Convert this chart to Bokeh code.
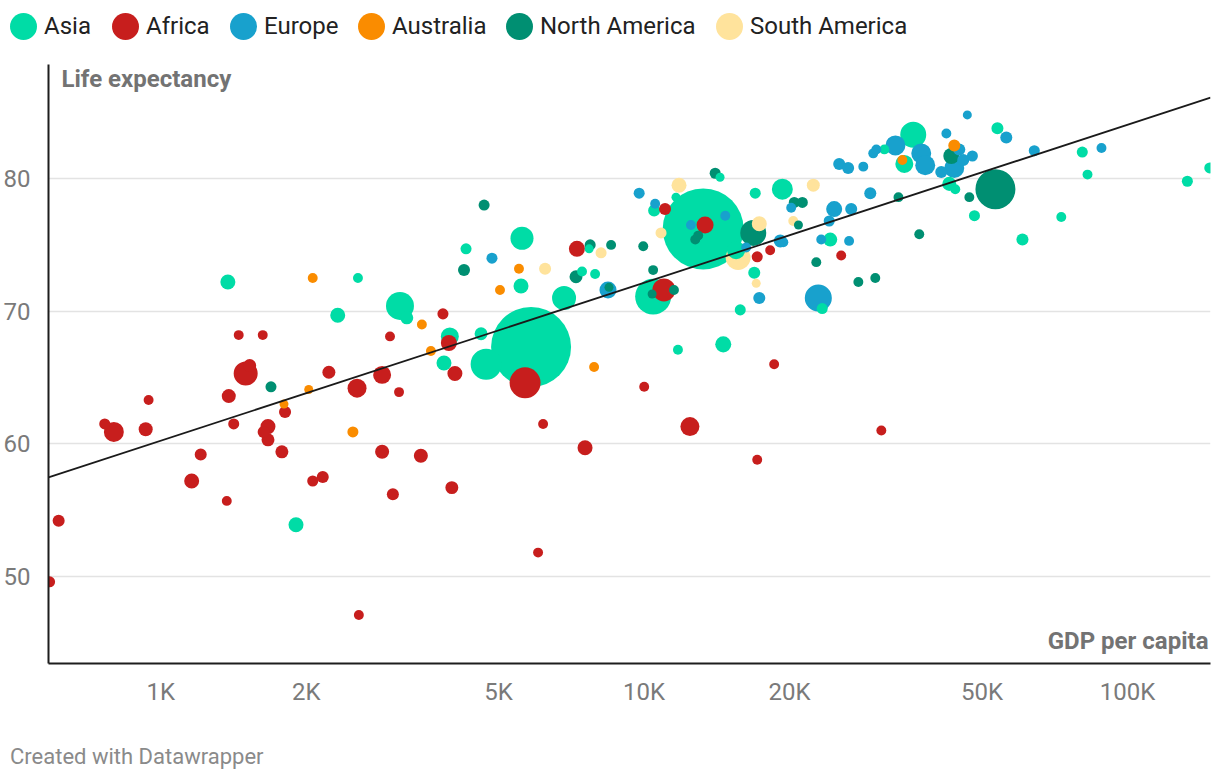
import numpy as np
from bokeh.plotting import figure
from bokeh.models import Range1d, FixedTicker, Label, ColumnDataSource, Div
from bokeh.layouts import column
from bokeh.embed import file_html
from bokeh.resources import INLINE

# ---------------- data (GDP per capita, life expectancy, population in millions) ----------------
continents = ["Asia", "Africa", "Europe", "Australia", "North America", "South America"]

asia_gdp = [1377, 2559, 2324, 3126, 1905, 3229, 3964, 4600, 3855, 4712, 5837, 4282, 5590, 5564, 6830,
            7697, 7441, 7918, 10440, 10490, 11640, 13250, 14360, 16980, 19320, 15500, 11750, 14580, 16900,
            15810, 24270, 23360, 31410, 36040, 34540, 42790, 44030, 48240, 53820, 60630, 72950, 80630,
            82660, 133000, 148000]
asia_life = [72.2, 72.5, 69.7, 70.4, 53.9, 69.5, 68.1, 68.3, 66.1, 66.0, 67.3, 74.7, 75.5, 71.9, 71.0,
             74.7, 73.0, 72.8, 71.1, 77.6, 78.6, 76.2, 80.1, 78.9, 79.2, 74.6, 67.1, 67.5, 72.9,
             70.1, 75.4, 70.2, 82.2, 83.3, 81.1, 79.6, 79.2, 77.2, 83.8, 75.4, 77.1, 82.0,
             80.3, 79.8, 80.8]
asia_pop = [48, 21, 48, 167, 48, 36, 69, 36, 48, 205, 1365, 26, 113, 48, 123,
            17, 21, 21, 276, 31, 17, 1400, 17, 26, 94, 70, 21, 55, 31,
            26, 42, 26, 21, 144, 69, 42, 21, 26, 31, 31, 21, 26,
            21, 26, 26]

africa_gdp = [1450, 1626, 2981, 1499, 1528, 2228, 1383, 2548, 2871, 3112, 944, 766, 800, 931, 1416,
              1667, 1633, 1667, 1808, 1781, 2871, 1210, 1159, 2063, 2164, 1370, 3022, 615, 589, 2570,
              3836, 3946, 4061, 5673, 3453, 4002, 6035, 6181, 7548, 10005, 12440, 17140, 18580, 7262,
              11050, 13370, 10990, 17140, 18230, 25570, 30960]
africa_life = [68.2, 68.2, 68.1, 65.3, 65.9, 65.4, 63.6, 64.2, 65.2, 63.9, 63.3, 61.5, 60.9, 61.1, 61.5,
               61.3, 60.9, 60.3, 62.4, 59.4, 59.4, 59.2, 57.2, 57.2, 57.5, 55.7, 56.2, 54.2, 49.6, 47.1,
               69.8, 67.6, 65.3, 64.6, 59.1, 56.7, 51.8, 61.5, 59.7, 64.3, 61.3, 58.8, 66.0, 74.7,
               77.7, 76.5, 71.6, 74.1, 74.6, 74.2, 61.0]
africa_pop = [21, 21, 21, 123, 36, 36, 42, 77, 69, 21, 21, 26, 85, 42, 26,
              48, 31, 36, 31, 36, 42, 31, 48, 26, 31, 21, 31, 31, 26, 21,
              26, 55, 48, 205, 42, 36, 21, 21, 48, 21, 77, 21, 21, 55,
              31, 62, 113, 26, 21, 21, 21]

europe_gdp = [4845, 8420, 9768, 10540, 12500, 14720, 16260, 19130, 20150, 17310, 19410, 24730, 24150,
              26820, 23250, 26550, 22930, 25330, 26430, 28410, 29370, 29790, 30230, 33110, 37440, 38160,
              42200, 46630, 44870, 47770, 43820, 41190, 45740, 56140, 64150, 88350]
europe_life = [74.0, 71.6, 78.9, 78.1, 76.5, 77.2, 74.8, 75.3, 77.8, 71.0, 75.2, 77.7, 76.8,
               77.7, 75.4, 75.3, 71.0, 81.1, 80.8, 80.9, 78.9, 81.9, 82.2, 82.5, 81.9, 81.0,
               83.4, 84.8, 82.2, 81.7, 80.8, 80.5, 81.4, 83.1, 82.1, 82.3]
europe_pop = [26, 62, 26, 21, 21, 21, 21, 36, 21, 31, 21, 55, 26,
              31, 21, 21, 156, 31, 31, 21, 31, 21, 21, 85, 85, 85,
              21, 17, 31, 26, 85, 31, 31, 31, 26, 21]

australia_gdp = [2063, 2024, 1799, 2498, 3470, 3622, 5034, 5510, 7880, 34220, 43820]
australia_life = [72.5, 64.1, 63.0, 60.9, 69.0, 67.0, 71.6, 73.2, 65.8, 81.4, 82.5]
australia_pop = [21, 17, 17, 26, 21, 21, 21, 21, 21, 21, 31]

namerica_gdp = [1691, 4241, 4667, 7735, 8545, 7230, 9960, 10440, 8460, 10390, 11530, 14030, 12760,
                12940, 16820, 20450, 21250, 20860, 22710, 27750, 30080, 33590, 37090, 43210, 47080, 53310]
namerica_life = [64.3, 73.1, 78.0, 75.0, 75.0, 72.6, 74.9, 73.1, 71.8, 71.3, 71.6, 80.4, 75.4,
                 75.7, 75.9, 78.2, 78.2, 76.5, 73.7, 72.2, 72.5, 78.6, 75.8, 81.7, 78.6, 79.2]
namerica_pop = [26, 31, 26, 26, 21, 36, 21, 21, 17, 17, 21, 26, 21,
                21, 144, 26, 26, 17, 21, 21, 21, 21, 21, 55, 21, 341]

samerica_gdp = [6240, 8147, 11810, 10840, 15650, 17310, 20350, 17060, 22390]
samerica_life = [73.2, 74.4, 79.5, 75.9, 74.05, 76.6, 76.8, 72.1, 79.5]
samerica_pop = [31, 26, 48, 26, 133, 48, 21, 17, 36]

# regression line end points (GDP, life expectancy)
trend_gdp = [586, 148500]
trend_life = [57.47, 86.1]

x_ticks = [1000, 2000, 5000, 10000, 20000, 50000, 100000]
x_tick_labels = ["1K", "2K", "5K", "10K", "20K", "50K", "100K"]
y_ticks = [50, 60, 70, 80]

# ---------------- styling ----------------
palette = {
    "Asia": "#00dca6",
    "Africa": "#c71e1d",
    "Europe": "#18a1cd",
    "Australia": "#fa8c00",
    "North America": "#008f72",
    "South America": "#ffe39c",
}
FONT = "Roboto"

series = [
    ("Asia", asia_gdp, asia_life, asia_pop),
    ("Africa", africa_gdp, africa_life, africa_pop),
    ("Europe", europe_gdp, europe_life, europe_pop),
    ("Australia", australia_gdp, australia_life, australia_pop),
    ("North America", namerica_gdp, namerica_life, namerica_pop),
    ("South America", samerica_gdp, samerica_life, samerica_pop),
]

gx, gy, gp, gc = [], [], [], []
for name, g, l, pp in series:
    assert len(g) == len(l) == len(pp), name
    gx += g
    gy += l
    gp += pp
    gc += [palette[name]] * len(g)

order = np.argsort(-np.array(gp), kind="stable")
gx = np.array(gx, dtype=float)[order]
gy = np.array(gy, dtype=float)[order]
gp = np.array(gp, dtype=float)[order]
gc = np.array(gc)[order]
sizes = np.maximum(9.0, 2.165 * np.sqrt(gp))

src = ColumnDataSource(dict(x=gx, y=gy, size=sizes, color=gc))

W = 1212
LEG_H = 52          # legend strip height
FOOT_H = 70         # footer strip height
LEFT = 48
FRAME_H = 599

# ---------------- legend strip (HTML) ----------------
leg_left = [10, 112, 230, 358, 506, 716]   # left edge of each legend dot (px)
DOT = 27
parts = []
for c, lx in zip(continents, leg_left):
    parts.append(
        f'<span style="position:absolute;left:{lx}px;top:{(LEG_H - DOT) / 2}px;width:{DOT}px;'
        f'height:{DOT}px;border-radius:50%;background:{palette[c]};"></span>'
        f'<span style="position:absolute;left:{lx + DOT + 7}px;top:0px;line-height:{LEG_H}px;'
        f'font-family:Roboto;font-size:24px;color:#222222;white-space:nowrap;">{c}</span>'
    )
legend_div = Div(text=f'<div style="position:relative;width:{W}px;height:{LEG_H}px;">' + "".join(parts) + "</div>",
                 width=W, height=LEG_H, margin=(0, 0, 0, 0))

# ---------------- main chart ----------------
p = figure(width=W, height=12 + FRAME_H + 47, x_axis_type="log",
           x_range=Range1d(586, 148500), y_range=Range1d(43.44, 88.6),
           output_backend="svg", toolbar_location=None, margin=(0, 0, 0, 0),
           min_border_left=LEFT, min_border_right=2, min_border_top=12, min_border_bottom=47)
p.outline_line_color = None
p.xgrid.visible = False
p.ygrid.grid_line_color = "#e3e3e3"
p.ygrid.grid_line_width = 1.6
p.ygrid.ticker = FixedTicker(ticks=y_ticks)

p.yaxis.ticker = FixedTicker(ticks=y_ticks)
p.xaxis.ticker = FixedTicker(ticks=x_ticks)
p.xaxis.major_label_overrides = {t: l for t, l in zip(x_ticks, x_tick_labels)}
for ax in (p.xaxis, p.yaxis):
    ax.axis_line_color = "#1d1d1d"
    ax.axis_line_width = 2
    ax.major_tick_line_color = None
    ax.minor_tick_line_color = None
    ax.major_label_text_font = FONT
    ax.major_label_text_font_size = "24px"
    ax.major_label_text_color = "#7a7a7a"
p.yaxis.major_label_standoff = 12
p.xaxis.major_label_standoff = 8

p.scatter(x="x", y="y", size="size", fill_color="color", line_color=None, source=src)
p.line(trend_gdp, trend_life, line_color="#1a1a1a", line_width=1.8)

# axis titles inside the plot area
p.add_layout(Label(x=13, y=FRAME_H - 14, x_units="screen", y_units="screen", text="Life expectancy",
                   text_font=FONT, text_font_size="24px", text_font_style="bold",
                   text_color="#737373", text_baseline="middle", text_align="left"))
p.add_layout(Label(x=1160, y=23, x_units="screen", y_units="screen", text="GDP per capita",
                   text_font=FONT, text_font_size="24px", text_font_style="bold",
                   text_color="#737373", text_baseline="middle", text_align="right"))

# ---------------- footer (HTML) ----------------
footer_div = Div(text=f'<div style="position:relative;width:{W}px;height:{FOOT_H}px;">'
                      f'<span style="position:absolute;left:10px;top:{47 - 13}px;line-height:26px;'
                      f'font-family:Roboto;font-size:22px;color:#8a8a8a;white-space:nowrap;">'
                      f'Created with Datawrapper</span></div>',
                 width=W, height=FOOT_H, margin=(0, 0, 0, 0))

layout = column(legend_div, p, footer_div, spacing=0)
open("out.html", "w").write(file_html(layout, INLINE))
